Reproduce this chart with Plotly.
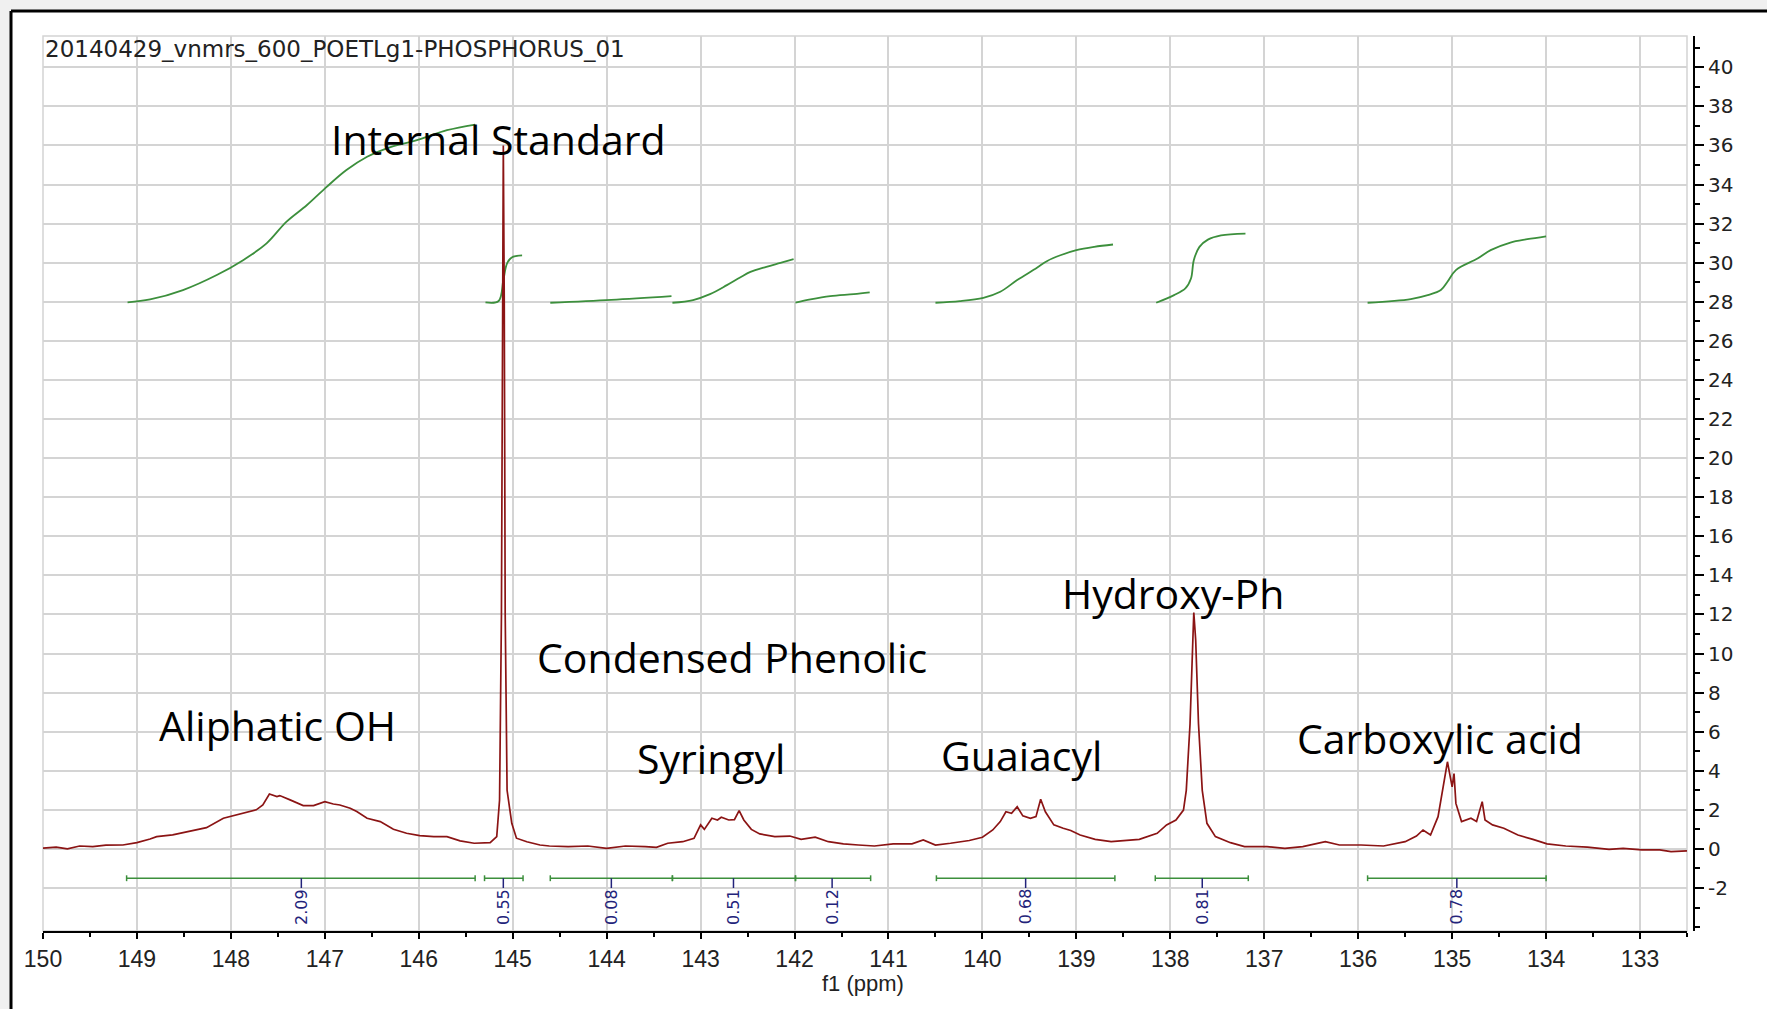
import plotly.graph_objects as go

# ---------------- data ----------------
spec_ppm = [150.0, 149.86, 149.74, 149.61, 149.47, 149.33, 149.15, 149.0, 148.86, 148.79,
            148.62, 148.44, 148.26, 148.08, 147.91, 147.73, 147.66, 147.59, 147.51, 147.48,
            147.37, 147.23, 147.12, 147.0, 146.91, 146.84, 146.73, 146.66, 146.55, 146.41,
            146.27, 146.13, 145.99, 145.84, 145.70, 145.56, 145.41, 145.24, 145.17, 145.14,
            145.12, 145.11, 145.10, 145.09, 145.08, 145.06, 145.01, 144.96, 144.85, 144.71,
            144.61, 144.41, 144.2, 144.0, 143.8, 143.59, 143.47, 143.35, 143.19, 143.07,
            143.0, 142.96, 142.88, 142.82, 142.78, 142.7, 142.64, 142.59, 142.54, 142.46,
            142.37, 142.21, 142.05, 141.93, 141.78, 141.64, 141.48, 141.32, 141.15, 140.95,
            140.75, 140.63, 140.5, 140.34, 140.14, 140.0, 139.89, 139.81, 139.75, 139.69,
            139.63, 139.57, 139.49, 139.43, 139.38, 139.33, 139.24, 139.14, 139.06, 138.96,
            138.8, 138.63, 138.52, 138.33, 138.14, 138.04, 137.94, 137.86, 137.83, 137.79,
            137.76, 137.75, 137.73, 137.70, 137.66, 137.61, 137.52, 137.36, 137.21, 136.97,
            136.78, 136.59, 136.35, 136.2, 135.97, 135.73, 135.5, 135.38, 135.31, 135.23,
            135.15, 135.09, 135.05, 135.02, 135.0, 134.98, 134.96, 134.9, 134.8, 134.74,
            134.71, 134.68, 134.65, 134.57, 134.45, 134.3, 134.14, 133.99, 133.79, 133.56,
            133.33, 133.18, 132.98, 132.79, 132.67, 132.5]
spec_int = [0.04, 0.09, 0.0, 0.15, 0.12, 0.19, 0.2, 0.32, 0.51, 0.63,
            0.72, 0.89, 1.09, 1.57, 1.79, 2.0, 2.25, 2.81, 2.68, 2.73,
            2.51, 2.22, 2.22, 2.42, 2.30, 2.25, 2.08, 1.91, 1.57, 1.40,
            1.01, 0.80, 0.68, 0.63, 0.63, 0.41, 0.29, 0.32, 0.63, 2.5,
            12.0, 30.0, 36.0, 28.0, 12.0, 3.0, 1.31, 0.55, 0.37, 0.2,
            0.15, 0.12, 0.15, 0.03, 0.15, 0.12, 0.08, 0.29, 0.37, 0.54,
            1.23, 1.0, 1.57, 1.48, 1.62, 1.48, 1.5, 1.96, 1.48, 1.0,
            0.77, 0.63, 0.66, 0.49, 0.60, 0.37, 0.26, 0.2, 0.15, 0.26,
            0.26, 0.46, 0.2, 0.29, 0.43, 0.6, 0.97, 1.4, 1.9, 1.82,
            2.16, 1.69, 1.57, 1.65, 2.54, 1.9, 1.23, 1.06, 0.94, 0.71,
            0.49, 0.37, 0.40, 0.49, 0.8, 1.23, 1.48, 1.99, 3.0, 6.4,
            10.7, 12.1, 10.7, 6.4, 3.0, 1.31, 0.63, 0.32, 0.12, 0.12,
            0.03, 0.12, 0.37, 0.2, 0.2, 0.15, 0.37, 0.66, 0.97, 0.71,
            1.65, 3.35, 4.46, 3.69, 3.18, 3.86, 2.33, 1.4, 1.57, 1.4,
            1.91, 2.42, 1.48, 1.23, 1.06, 0.71, 0.49, 0.26, 0.15, 0.09,
            -0.02, 0.03, -0.05, -0.05, -0.14, -0.1]

# integral curves (ppm, height)
int_curves_ppm = [
    [149.1, 148.86, 148.51, 148.15, 147.87, 147.62, 147.41, 147.19, 146.98, 146.77, 146.55, 146.34, 146.02, 145.70, 145.40],
    [145.29, 145.15, 145.10, 145.06, 145.01, 144.90],
    [144.60, 143.95, 143.31],
    [143.30, 143.08, 142.90, 142.72, 142.58, 142.47, 142.30, 142.15, 142.01],
    [141.99, 141.83, 141.62, 141.37, 141.20],
    [140.50, 140.24, 139.99, 139.81, 139.63, 139.42, 139.31, 139.17, 139.0, 138.81, 138.61],
    [138.15, 137.96, 137.84, 137.78, 137.75, 137.69, 137.60, 137.46, 137.2],
    [135.90, 135.44, 135.26, 135.12, 135.05, 134.96, 134.73, 134.59, 134.38, 134.20, 134.0],
]
int_curves_val = [
    [27.97, 28.12, 28.6, 29.37, 30.13, 30.99, 32.09, 32.95, 33.88, 34.74, 35.42, 35.85, 36.27, 36.78, 37.07],
    [27.97, 28.04, 29.1, 29.96, 30.27, 30.37],
    [27.95, 28.1, 28.29],
    [27.95, 28.09, 28.39, 28.85, 29.24, 29.53, 29.79, 29.99, 30.18],
    [27.95, 28.12, 28.29, 28.39, 28.48],
    [27.95, 28.03, 28.2, 28.51, 29.11, 29.74, 30.09, 30.38, 30.64, 30.81, 30.93],
    [27.95, 28.34, 28.68, 29.19, 30.13, 30.81, 31.18, 31.4, 31.49],
    [27.95, 28.14, 28.34, 28.6, 29.02, 29.62, 30.21, 30.64, 31.03, 31.2, 31.35],
]

# integral bars
bar_start = [149.11, 145.30, 144.60, 143.30, 141.99, 140.49, 138.16, 135.90]
bar_end = [145.40, 144.89, 143.30, 141.99, 141.19, 138.59, 137.17, 134.00]
bar_mark = [147.25, 145.10, 143.95, 142.65, 141.60, 139.54, 137.66, 134.95]
bar_labels = ["2.09", "0.55", "0.08", "0.51", "0.12", "0.68", "0.81", "0.78"]

# region labels
region_names = ["Internal Standard", "Condensed Phenolic", "Aliphatic OH", "Syringyl",
                "Guaiacyl", "Hydroxy-Ph", "Carboxylic acid"]
region_ppm = [145.15, 142.67, 147.50, 142.89, 139.58, 137.97, 135.13]
region_y = [36.34, 9.82, 6.36, 4.63, 4.81, 13.1, 5.67]

x_ticks = list(range(133, 151))
y_ticks = list(range(-2, 41, 2))

title_text = "20140429_vnmrs_600_POETLg1-PHOSPHORUS_01"

# ---------------- figure ----------------
SPEC_COL = "#8b1414"
INT_COL = "#3c8f3c"
LBL_COL = "#23237a"
GRID = "#d4d4d4"

BAR_Y = -1.5
CAP = 0.15
MARK_Y = -2.0

fig = go.Figure()

for px, pv in zip(int_curves_ppm, int_curves_val):
    fig.add_trace(go.Scatter(x=px, y=pv, mode="lines", line=dict(color=INT_COL, width=1.8, shape="spline"),
                             hoverinfo="skip", showlegend=False))

fig.add_trace(go.Scatter(x=spec_ppm, y=spec_int, mode="lines",
                         line=dict(color=SPEC_COL, width=1.7), showlegend=False))

bx, by = [], []
for s, e in zip(bar_start, bar_end):
    bx += [s, e, None, s, s, None, e, e, None]
    by += [BAR_Y, BAR_Y, None, BAR_Y - CAP, BAR_Y + CAP, None, BAR_Y - CAP, BAR_Y + CAP, None]
fig.add_trace(go.Scatter(x=bx, y=by, mode="lines", line=dict(color=INT_COL, width=1.5),
                         hoverinfo="skip", showlegend=False))

mx, my = [], []
for m in bar_mark:
    mx += [m, m, None]
    my += [BAR_Y, MARK_Y, None]
fig.add_trace(go.Scatter(x=mx, y=my, mode="lines", line=dict(color=LBL_COL, width=1.5),
                         hoverinfo="skip", showlegend=False))

annotations = []
for m, t in zip(bar_mark, bar_labels):
    annotations.append(dict(x=m, y=-2.95, xref="x", yref="y", text=t, textangle=-90,
                            showarrow=False, font=dict(family="DejaVu Sans", size=16, color=LBL_COL)))

for name, px, py in zip(region_names, region_ppm, region_y):
    annotations.append(dict(x=px, y=py, xref="x", yref="y", text=name, showarrow=False,
                            font=dict(family="Open Sans", size=41, color="black")))

annotations.append(dict(x=0, y=0.986, xref="paper", yref="paper", text=title_text, xanchor="left",
                        yanchor="middle", showarrow=False,
                        font=dict(family="DejaVu Sans", size=23, color="#222")))
annotations.append(dict(x=0.4967, y=(931 - 983) / 895.0, xref="paper", yref="paper", text="f1 (ppm)",
                        xanchor="center", yanchor="middle",
                        showarrow=False, font=dict(family="Liberation Sans", size=22, color="#222")))

PW = 1651.0
PH = 895.0
def px2x(p):
    return (p - 43) / PW
def py2y(p):
    return (931 - p) / PH

shapes = [
    dict(type="rect", xref="paper", yref="paper", x0=0, x1=1644 / PW, y0=0, y1=1,
         line=dict(color=GRID, width=1.5), layer="below"),
    dict(type="rect", xref="paper", yref="paper", x0=px2x(0), x1=px2x(10), y0=py2y(1009), y1=py2y(0),
         fillcolor="#f0f0f0", line=dict(width=0), layer="below"),
    dict(type="rect", xref="paper", yref="paper", x0=px2x(0), x1=px2x(1767), y0=py2y(10), y1=py2y(0),
         fillcolor="#f0f0f0", line=dict(width=0), layer="below"),
    dict(type="line", xref="paper", yref="paper", x0=px2x(11), x1=px2x(11), y0=py2y(1009), y1=py2y(11),
         line=dict(color="black", width=3)),
    dict(type="line", xref="paper", yref="paper", x0=px2x(11), x1=px2x(1767), y0=py2y(11), y1=py2y(11),
         line=dict(color="black", width=3)),
]

fig.update_layout(
    width=1767, height=1009,
    margin=dict(l=43, r=73, t=36, b=78),
    paper_bgcolor="white", plot_bgcolor="white",
    showlegend=False,
    annotations=annotations,
    shapes=shapes,
    xaxis=dict(range=[150, 132.5], domain=[0, 1644 / PW], tickmode="array", tickvals=x_ticks,
               ticktext=[str(t) for t in x_ticks],
               showgrid=True, gridcolor=GRID, gridwidth=1.5, zeroline=False,
               showline=True, linecolor="black", linewidth=2,
               ticks="outside", ticklen=6, tickwidth=1.5, tickcolor="black",
               minor=dict(dtick=0.5, tick0=0, ticks="outside", ticklen=4, tickcolor="black", showgrid=False),
               tickfont=dict(family="Liberation Sans", size=23, color="#222")),
    yaxis=dict(range=[-4.2, 41.6], side="right", anchor="free", position=1,
               tickmode="array", tickvals=y_ticks, ticktext=[str(t) for t in y_ticks],
               showgrid=True, gridcolor=GRID, gridwidth=1.5, zeroline=False,
               showline=True, linecolor="black", linewidth=2,
               ticks="outside", ticklen=9, tickwidth=1.5, tickcolor="black",
               minor=dict(dtick=1, tick0=0, ticks="outside", ticklen=5, tickcolor="black", showgrid=False),
               tickfont=dict(family="DejaVu Sans", size=20, color="#222")),
)

fig.write_html("out.html", config={"displayModeBar": False},
               post_script="document.body.style.margin='0px';")
